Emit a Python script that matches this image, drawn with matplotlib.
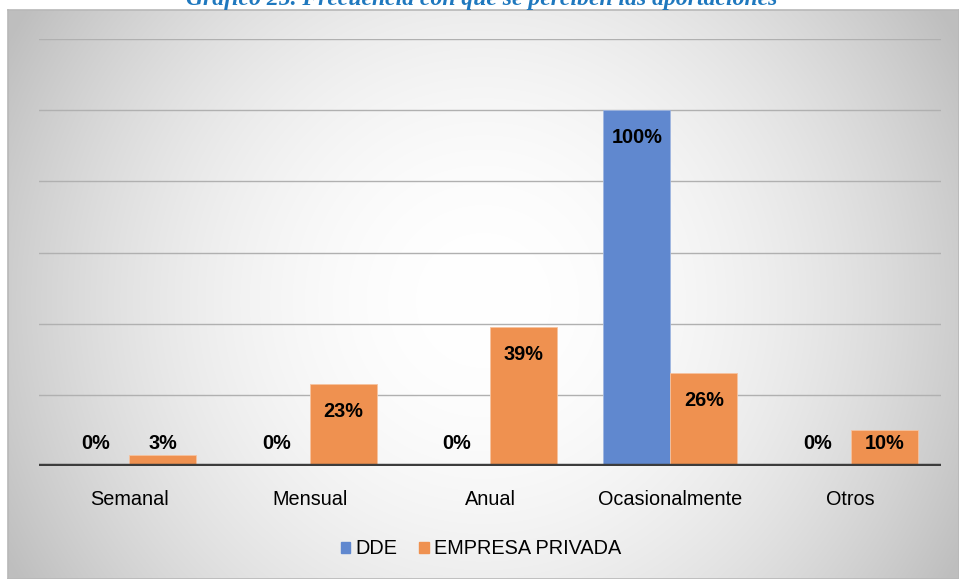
import numpy as np
import matplotlib
matplotlib.use("Agg")
import matplotlib.pyplot as plt
from matplotlib import font_manager
from matplotlib.patches import Patch

categories = ["Semanal", "Mensual", "Anual", "Ocasionalmente", "Otros"]
dde = [0, 0, 0, 100, 0]
empresa = [3, 23, 39, 26, 10]
series_names = ["DDE", "EMPRESA PRIVADA"]
title = "Gráfico 25. Frecuencia con que se perciben las aportaciones"

COLOR_DDE = "#6088cf"
COLOR_EMP = "#ef9150"
W, H = 959, 579

names = {f.name for f in font_manager.fontManager.ttflist}
NARROW = "Liberation Sans Narrow" if "Liberation Sans Narrow" in names else "Liberation Sans"
SIZE = 16.5 if NARROW == "Liberation Sans Narrow" else 14.3

fig = plt.figure(figsize=(W / 100, H / 100), dpi=100)
fig.patch.set_facecolor("white")

# background chart area with radial gradient
bg = fig.add_axes([8 / W, 0, 1 - 8 / W, (H - 10) / H], zorder=-2)
yy, xx = np.mgrid[10:H, 8:W]
d2 = (xx - 483.0) ** 2 + (yy - 300.0) ** 2
shade = np.clip(255 - 2.2e-4 * d2, 190, 255) / 255.0
bg.imshow(np.dstack([shade] * 3), aspect="auto", extent=[0, 1, 0, 1], interpolation="bilinear")
bg.set_xticks([])
bg.set_yticks([])
for side, sp in bg.spines.items():
    sp.set_color("#b8b8b8")
    sp.set_linewidth(1.2)

ax = fig.add_axes([39 / W, (H - 466) / H, (941 - 39) / W, (466 - 39) / H])
ax.patch.set_alpha(0)
x = np.arange(len(categories))
bw = 0.371
ax.bar(x - bw / 2, dde, bw, color=COLOR_DDE, edgecolor="#9fb6e0", linewidth=0.6, zorder=3)
ax.bar(x + bw / 2, empresa, bw, color=COLOR_EMP, edgecolor="#f6c3a0", linewidth=0.6, zorder=3)

ax.set_xlim(-0.5, 4.5)
ax.set_ylim(0, 120)
ax.set_yticks(np.arange(0, 121, 20))
ax.set_yticklabels([])
ax.tick_params(axis="y", length=0)
ax.grid(axis="y", color="#b0b0b0", linewidth=1, zorder=0)
ax.axhline(0, color="#3c3c3c", linewidth=3.2, zorder=4)
for sp in ax.spines.values():
    sp.set_visible(False)

ax.set_xticks(x)
ax.set_xticklabels(categories, fontsize=SIZE, family=[NARROW, "DejaVu Sans"], color="black")
ax.tick_params(axis="x", length=0, pad=17)

for offs, vals in ((-bw / 2, dde), (bw / 2, empresa)):
    for xi, v in zip(x, vals):
        ly = max(v - 7.6, 6.45)
        ax.text(xi + offs, ly, f"{v}%", ha="center", va="center", fontsize=SIZE,
                fontweight="bold", family=[NARROW, "DejaVu Sans"], color="black", zorder=5)

handles = [Patch(color=COLOR_DDE), Patch(color=COLOR_EMP)]
fig.legend(handles, series_names, loc="center", bbox_to_anchor=(481 / W, 1 - 549 / H),
           ncol=2, frameon=False, prop={"family": NARROW, "size": SIZE},
           handlelength=0.48, handleheight=0.48, handletextpad=0.25, columnspacing=1.1)

fig.text(482 / W, 1 - 5.5 / H, title, ha="center", va="baseline", fontsize=17,
         family="Liberation Serif", fontweight="bold", style="italic", color="#1f78be")

fig.savefig("out.png", dpi=100)
